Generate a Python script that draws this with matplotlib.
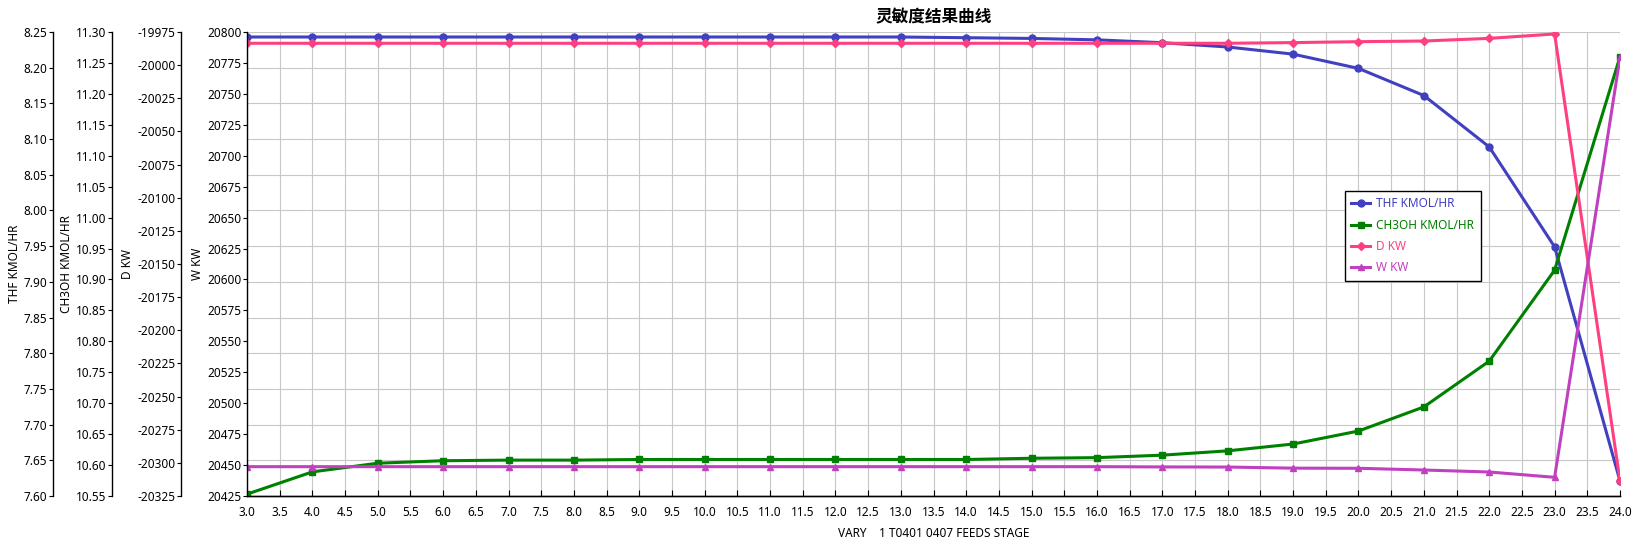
import matplotlib
matplotlib.use('Agg')
import matplotlib.pyplot as plt
import numpy as np
from matplotlib.ticker import FormatStrFormatter

plt.rcParams['font.family'] = ['Noto Sans', 'Noto Sans CJK SC', 'DejaVu Sans']

# 数据
stage = [3, 4, 5, 6, 7, 8, 9, 10, 11, 12, 13, 14, 15, 16, 17, 18, 19, 20, 21, 22, 23, 24]

thf = [8.243, 8.243, 8.243, 8.243, 8.243, 8.243, 8.243, 8.243, 8.243, 8.243, 8.243,
       8.242, 8.241, 8.239, 8.235, 8.229, 8.219, 8.199, 8.161, 8.089, 7.949, 7.621]

ch3oh = [10.553, 10.589, 10.603, 10.607, 10.608, 10.608, 10.609, 10.609, 10.609, 10.609, 10.609,
         10.609, 10.611, 10.612, 10.616, 10.623, 10.634, 10.655, 10.694, 10.768, 10.915, 11.260]

d_kw = [-19983.5, -19983.5, -19983.5, -19983.5, -19983.5, -19983.5, -19983.5, -19983.5,
        -19983.5, -19983.5, -19983.5, -19983.5, -19983.5, -19983.5, -19983.5, -19983.5,
        -19983.0, -19982.3, -19981.8, -19979.8, -19976.5, -20313.6]

w_kw = [20448.7, 20448.7, 20448.7, 20448.7, 20448.7, 20448.7, 20448.7, 20448.7, 20448.7,
        20448.7, 20448.7, 20448.7, 20448.7, 20448.7, 20448.5, 20448.4, 20447.5, 20447.4,
        20446.0, 20444.4, 20440.1, 20779.5]

c_thf = '#4040C0'
c_ch3oh = '#008000'
c_d = '#FF4080'
c_w = '#C040C0'

dpi = 100
fig = plt.figure(figsize=(16.37, 5.46), dpi=dpi)
W, H = 1637, 546
L, R, T, B = 247, 1620, 32, 496
ax = fig.add_axes([L / W, 1 - B / H, (R - L) / W, (B - T) / H])

fs = 8.5

def px2pt(p):
    return p * 72 / dpi

def setup_left(a, offset_px, ticks, lim, fmt, label):
    a.set_ylim(*lim)
    a.set_yticks(ticks)
    a.yaxis.set_major_formatter(FormatStrFormatter(fmt))
    a.yaxis.tick_left()
    a.yaxis.set_label_position('left')
    for s in ['right', 'top']:
        a.spines[s].set_visible(False)
    a.spines['left'].set_visible(True)
    a.spines['left'].set_position(('outward', px2pt(offset_px)))
    a.spines['left'].set_linewidth(1.0)
    a.tick_params(axis='y', direction='out', length=3, width=0.8, pad=1, labelsize=fs)
    a.set_ylabel(label, fontsize=fs, labelpad=2)

# THF 轴 (底层, 带网格)
ax.plot(stage, thf, color=c_thf, lw=2.2, marker='o', ms=5, label='THF KMOL/HR', zorder=3)
setup_left(ax, 194, np.arange(7.60, 8.2501, 0.05), (7.60, 8.25), '%.2f', 'THF KMOL/HR')
ax.set_xlim(3, 24)
ax.set_xticks(np.arange(3.0, 24.01, 0.5))
ax.xaxis.set_major_formatter(FormatStrFormatter('%.1f'))
ax.tick_params(axis='x', direction='in', length=4, width=0.8, pad=7, labelsize=fs)
ax.spines['bottom'].set_linewidth(1.0)
ax.grid(True, color='#C8C8C8', lw=0.8)
ax.set_axisbelow(True)
ax.set_xlabel('VARY    1 T0401 0407 FEEDS STAGE', fontsize=fs, labelpad=6)

ax2 = ax.twinx()
ax2.plot(stage, ch3oh, color=c_ch3oh, lw=2.2, marker='s', ms=5, label='CH3OH KMOL/HR')
setup_left(ax2, 135, np.arange(10.55, 11.3001, 0.05), (10.55, 11.30), '%.2f', 'CH3OH KMOL/HR')

ax3 = ax.twinx()
ax3.plot(stage, d_kw, color=c_d, lw=2.2, marker='D', ms=4.5, label='D KW')
setup_left(ax3, 66, np.arange(-20325, -19974, 25), (-20325, -19975), '%d', 'D KW')

ax4 = ax.twinx()
ax4.plot(stage, w_kw, color=c_w, lw=2.2, marker='^', ms=4, label='W KW')
setup_left(ax4, 0, np.arange(20425, 20801, 25), (20425, 20800), '%d', 'W KW')

ax.set_title('灵敏度结果曲线', fontsize=12, fontweight='bold', pad=7)

handles = ax.get_lines() + ax2.get_lines() + ax3.get_lines() + ax4.get_lines()
leg = ax4.legend(handles, [h.get_label() for h in handles], loc='upper left',
                 bbox_to_anchor=((1345 - L) / (R - L), (B - 191) / (B - T)),
                 fontsize=fs, frameon=True, fancybox=False, framealpha=1,
                 edgecolor='black', handlelength=1.6, handletextpad=0.5,
                 borderpad=0.55, borderaxespad=0, labelspacing=0.7)
leg.get_frame().set_linewidth(1.0)
for t, h in zip(leg.get_texts(), handles):
    t.set_color(h.get_color())

fig.savefig('out.png', dpi=dpi)
